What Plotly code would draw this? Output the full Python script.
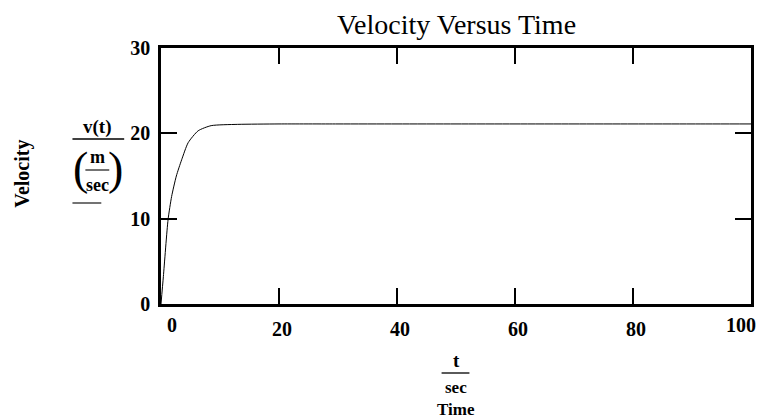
import plotly.graph_objects as go

# Data
time_s = [0, 0.4, 1.2, 1.8, 2.6, 3.5, 4.6, 6.3, 8.5, 13.0, 20.0, 30.0, 40.0, 50.0, 60.0, 70.0,
          80.0, 90.0, 100.0]
velocity = [0, 3.2, 9.9, 12.6, 15.0, 16.9, 18.9, 20.3, 20.9, 21.05, 21.1, 21.1, 21.1, 21.1, 21.1,
            21.1, 21.1, 21.1, 21.1]
x_ticks = [0, 20, 40, 60, 80, 100]
y_ticks = [0, 10, 20, 30]

serif = "Liberation Serif, Times New Roman, serif"

fig = go.Figure()
fig.add_trace(go.Scatter(x=time_s, y=velocity, mode="lines",
                         line=dict(color="black", width=1, shape="spline", smoothing=0.6),
                         showlegend=False, hoverinfo="skip"))

axis_common = dict(showgrid=False, zeroline=False, showline=True, linecolor="black", linewidth=2.7,
                   mirror="ticks", ticks="inside", ticklen=16, tickwidth=2, tickcolor="black",
                   tickfont=dict(family=serif, size=20, color="black"))

L, R, T, B = 161, 754, 48, 304
W, H = 763, 419

# interior x tick labels drawn by the axis; the end labels (0 and 100) are nudged inward
x_text = [f"<b>{v}</b>" if 0 < v < 100 else "" for v in x_ticks]

fig.update_layout(
    width=W, height=H,
    margin=dict(l=L, r=W - R, t=T, b=H - B, pad=0),
    paper_bgcolor="white", plot_bgcolor="white",
    xaxis=dict(range=[0, 100], tickvals=x_ticks, ticktext=x_text,
               ticklabelstandoff=5, ticklabelshift=3, **axis_common),
    yaxis=dict(range=[0, 30], tickvals=y_ticks, ticktext=[f"<b>{v}</b>" for v in y_ticks],
               ticklabelstandoff=4, **axis_common),
)

for v, anchor, shift in [(x_ticks[0], "left", 4), (x_ticks[-1], "right", 7)]:
    fig.add_annotation(text=f"<b>{v}</b>", x=v, y=0, xref="x", yref="paper", showarrow=False,
                       xanchor=anchor, yanchor="top", xshift=shift, yshift=-8,
                       font=dict(family=serif, size=20, color="black"))

def px(xp): return (xp - L) / (R - L)
def py(yp): return (B - yp) / (B - T)

def ann(text, x, y, size=14, bold=True, angle=0):
    fig.add_annotation(text=f"<b>{text}</b>" if bold else text, x=px(x), y=py(y),
                       xref="paper", yref="paper", showarrow=False, textangle=angle,
                       font=dict(family=serif, size=size, color="black"),
                       xanchor="center", yanchor="middle")

def hline(x0, x1, y, w=1):
    fig.add_shape(type="line", xref="paper", yref="paper", x0=px(x0), x1=px(x1), y0=py(y), y1=py(y),
                  line=dict(color="black", width=w))

# Title
ann("Velocity Versus Time", 458, 24, size=28, bold=False)

# Y axis label
ann("Velocity", 21, 174, size=20, angle=-90)
ann("v(t)", 97, 127, size=19)
hline(72, 124, 139, 1.4)
ann("(", 80, 168, size=46, bold=False)
ann(")", 115, 168, size=46, bold=False)
ann("m", 97, 157, size=18)
hline(85, 109, 170, 1.1)
ann("sec", 97, 185, size=18)
hline(72, 101, 203, 1.1)

# X axis label
ann("t", 458, 360, size=19)
hline(443, 471, 373, 1.3)
ann("sec", 458, 387, size=17)
ann("Time", 458, 409.5, size=17)

fig.write_html("out.html", config={"displayModeBar": False},
               post_script="document.body.style.margin='0';")
